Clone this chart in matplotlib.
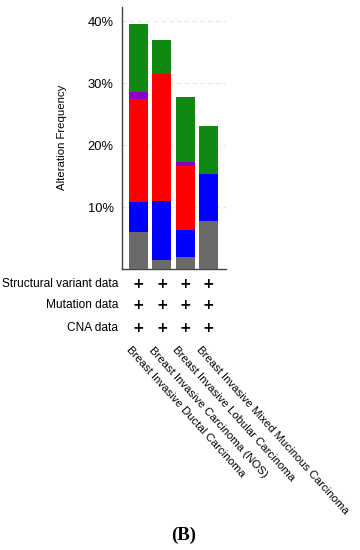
import matplotlib
matplotlib.use("Agg")
import matplotlib.pyplot as plt
from matplotlib.transforms import blended_transform_factory

# cancer types (x axis)
cancer_types = [
    "Breast Invasive Ductal Carcinoma",
    "Breast Invasive Carcinoma (NOS)",
    "Breast Invasive Lobular Carcinoma",
    "Breast Invasive Mixed Mucinous Carcinoma",
]

# stacked alteration frequencies (%), bottom to top
multiple = [6.0, 1.45, 1.9, 7.7]
deep_deletion = [4.85, 9.55, 4.4, 7.7]
amplification = [16.65, 20.5, 10.4, 0.0]
structural = [1.0, 0.0, 0.6, 0.0]
mutation = [11.0, 5.5, 10.5, 7.7]

row_labels = ["Structural variant data", "Mutation data", "CNA data"]
yticks = [10, 20, 30, 40]
ytick_labels = ["10%", "20%", "30%", "40%"]

series = [
    (multiple, "#6a6a6a"),
    (deep_deletion, "#0000ff"),
    (amplification, "#ff0000"),
    (structural, "#8b00c9"),
    (mutation, "#118811"),
]

plt.rcParams["font.family"] = ["Liberation Sans", "DejaVu Sans"]

fig = plt.figure(figsize=(3.6, 5.5), dpi=100)
ax = fig.add_axes([122 / 360, 1 - 269 / 550, 104 / 360, 262 / 550])

x = list(range(len(cancer_types)))
bottom = [0.0] * len(x)
for vals, color in series:
    ax.bar(x, vals, width=0.81, bottom=bottom, color=color, zorder=3)
    bottom = [b + v for b, v in zip(bottom, vals)]

ax.set_xlim(-0.71, 3.75)
ax.set_ylim(0, 42.3)
ax.set_yticks(yticks)
ax.set_yticklabels(ytick_labels, fontsize=9.3)
ax.tick_params(axis="y", length=0, pad=6)
ax.set_xticks([])
for y in yticks:
    ax.axhline(y, color="#e6e6e6", lw=0.8, ls=(0, (4, 3)), zorder=1)

for side in ["top", "right"]:
    ax.spines[side].set_visible(False)
for side in ["left", "bottom"]:
    ax.spines[side].set_color("#444444")
    ax.spines[side].set_linewidth(1.0)

fig.text(62 / 360, 1 - 137 / 550, "Alteration Frequency", rotation=90,
         ha="center", va="center", fontsize=8.2)

trans = blended_transform_factory(ax.transData, ax.transAxes)
row_y = [-0.057, -0.137, -0.225]
for label, ry in zip(row_labels, row_y):
    ax.text(-0.71 - 0.16, ry, label, transform=trans, ha="right", va="center",
            fontsize=8.6, clip_on=False)
    for xi in x:
        ax.text(xi, ry, "+", transform=trans, ha="center", va="center",
                fontsize=10, fontweight="bold", family="DejaVu Sans",
                clip_on=False)

for xi, name in zip(x, cancer_types):
    ax.text(xi - 0.3, -0.29, name, transform=trans, rotation=-48,
            rotation_mode="anchor", ha="left", va="top", fontsize=8.2,
            clip_on=False)

fig.text(184 / 360, 1 - 535 / 550, "(B)", ha="center", va="center",
         fontsize=13.5, fontweight="bold", family="Liberation Serif")

fig.savefig("out.png", dpi=100)
